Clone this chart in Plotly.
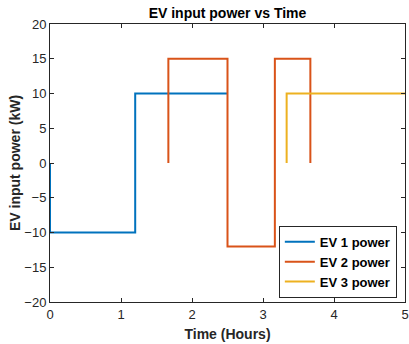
import plotly.graph_objects as go

# Data (step breakpoints, used with line_shape='hv')
ev1_t = [0, 0, 1.2, 2.5]
ev1_p = [0, -10, 10, 10]
ev2_t = [1.667, 1.667, 2.5, 3.167, 3.667, 3.667]
ev2_p = [0, 15, -12, 15, 15, 0]
ev3_t = [3.333, 3.333, 5.0]
ev3_p = [0, 10, 10]

names = ["EV 1 power", "EV 2 power", "EV 3 power"]
colors = ["#0072BD", "#D95319", "#EDB120"]

x_ticks = [0, 1, 2, 3, 4, 5]
y_ticks = [-20, -15, -10, -5, 0, 5, 10, 15, 20]

font_family = "Liberation Sans, Arial, sans-serif"

fig = go.Figure()
for t, p, n, c in zip([ev1_t, ev2_t, ev3_t], [ev1_p, ev2_p, ev3_p], names, colors):
    fig.add_trace(go.Scatter(x=t, y=p, mode="lines", name="<b>" + n + "</b>",
                             line=dict(color=c, width=2, shape="hv")))

axis_common = dict(showline=True, linecolor="#262626", linewidth=1, mirror="ticks",
                   ticks="inside", ticklen=4, tickcolor="#262626", showgrid=False,
                   zeroline=False, automargin=False,
                   tickprefix="<b>", ticksuffix="</b>",
                   tickfont=dict(family=font_family, size=13, color="#262626"))

fig.update_layout(
    width=409, height=344,
    margin=dict(l=50, r=4, t=24, b=42),
    paper_bgcolor="white", plot_bgcolor="white",
    title=dict(text="<b>EV input power vs Time</b>", x=0.5, xanchor="center",
               xref="paper", y=1 - 13 / 344, yanchor="middle",
               font=dict(family=font_family, size=14, color="black")),
    xaxis=dict(range=[0, 5], tickvals=x_ticks,
               title=dict(text="<b>Time (Hours)</b>", standoff=8,
                          font=dict(family=font_family, size=14, color="#262626")),
               **axis_common),
    yaxis=dict(range=[-20, 20], tickvals=y_ticks,
               title=dict(text="<b>EV input power (kW)</b>", standoff=0,
                          font=dict(family=font_family, size=14, color="#262626")),
               **axis_common),
    legend=dict(x=0.977, y=0.015, xanchor="right", yanchor="bottom",
                bgcolor="white", bordercolor="#262626", borderwidth=1,
                font=dict(family=font_family, size=13, color="black"),
                itemwidth=30, tracegroupgap=0),
    showlegend=True,
)

fig.write_html("out.html", config={"displayModeBar": False},
               post_script="document.body.style.margin='0px';document.body.style.overflow='hidden';")
